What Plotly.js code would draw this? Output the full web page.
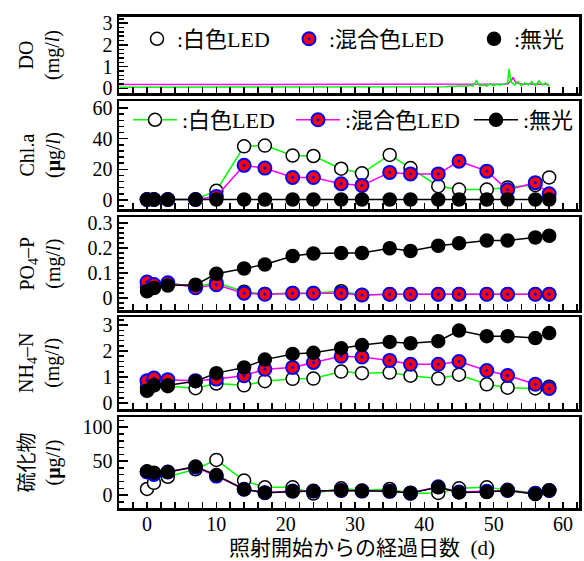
<!DOCTYPE html>
<html><head><meta charset="utf-8">
<script src="https://cdn.plot.ly/plotly-3.0.1.min.js"></script>
<style>html,body{margin:0;padding:0;background:#fff}#chart{width:584px;height:561px}</style>
</head><body><div id="chart"></div><script>
// sampling days
const days = [0,1,3,7,10,14,17,21,24,28,31,35,38,42,45,49,52,56,58];
// Chl.a (ug/l)
const chlWhite = [0.3,0.3,0.3,0.3,6,35,35.5,29,28.7,20.4,17.4,29.4,20.8,9,6.8,6.8,8.2,9.7,14.7];
const chlMixed = [0.3,0.3,0.3,0.3,2.3,22.6,20.8,14.7,14.7,10.6,9.5,18,17,17,25.3,18.8,6.6,11.3,4];
const chlDark  = [0.3,0.3,0.3,0.3,0.3,0.3,0.3,0.3,0.3,0.3,0.3,0.3,0.3,0.3,0.3,0.3,0.3,0.3,0.3];
// PO4-P (mg/l)
const poWhite = [0.045,0.05,0.06,0.045,0.062,0.025,0.016,0.02,0.02,0.027,0.012,0.015,0.015,0.015,0.015,0.015,0.015,0.015,0.015];
const poMixed = [0.064,0.054,0.061,0.041,0.053,0.019,0.015,0.019,0.019,0.019,0.012,0.015,0.015,0.015,0.015,0.015,0.015,0.015,0.015];
const poDark  = [0.027,0.04,0.05,0.053,0.097,0.118,0.134,0.168,0.178,0.18,0.18,0.199,0.188,0.209,0.219,0.23,0.23,0.242,0.249];
// NH4-N (mg/l)
const nhWhite = [0.59,0.68,0.65,0.57,0.75,0.68,0.84,0.93,0.94,1.21,1.15,1.17,1.05,0.94,1.09,0.72,0.59,0.56,0.63];
const nhMixed = [0.86,0.96,0.9,0.86,0.92,1.05,1.3,1.37,1.56,1.8,1.77,1.64,1.49,1.49,1.6,1.25,1.06,0.72,0.56];
const nhDark  = [0.47,0.68,0.68,0.84,1.15,1.37,1.67,1.89,1.93,2.11,2.23,2.35,2.3,2.38,2.79,2.57,2.57,2.5,2.69];
// Sulfide (ug/l)
const suWhite = [9,18,27,38,51.8,21.4,11.4,11.4,2.3,10,6.8,9,2.3,3.2,10,11.4,7.7,3.2,6.8];
const suMixed = [34,30.5,34,41,28,8.6,3.6,5.9,5.9,6.8,5.9,5.5,3.2,12.3,4.5,5.5,6.8,2.3,6.8];
const suDark  = [35,33,34,42,29.5,8.6,3.6,5.5,5.9,6.8,5.9,5.5,3.2,11.4,4,4.5,6.8,1.4,6.8];
// DO continuous records (mg/l)
const doDaysW = [-4,0,10,20,30,40,43,44,44.5,45,45.5,46,46.5,47,47.5,48,48.5,49,49.5,50,50.5,51,51.5,52,52.2,52.5,53,53.5,54,54.5,55,55.5,56,56.5,57,57.5,58];
const doWhite = [0.05,0.05,0.05,0.06,0.05,0.06,0.07,0.1,0.08,0.12,0.09,0.1,0.14,0.1,0.35,0.12,0.15,0.1,0.2,0.12,0.18,0.15,0.2,0.25,0.9,0.3,0.15,0.3,0.12,0.25,0.15,0.3,0.12,0.35,0.15,0.25,0.1];
const doDaysM = [-4,0,10,20,30,40,45,48,50,52,52.5,52.8,53.2,54,55,57,58];
const doMixed = [0.17,0.18,0.17,0.17,0.17,0.17,0.17,0.18,0.18,0.2,0.35,0.5,0.25,0.2,0.2,0.18,0.17];

const legendNames = [':白色LED', ':混合色LED', ':無光'];

const serif = 'Liberation Serif, Noto Sans CJK JP, serif';
const W = 460, L = 119, H = 561;
const px2x = p => (p - L) / W;
const px2y = p => 1 - p / H;

const white = {color:'#ffffff', size:13, line:{color:'#000000', width:1.5}};
const mixed = {color:'#ff0000', size:13, symbol:'circle-dot', line:{color:'#0000ff', width:2}};
const dark  = {color:'#000000', size:13, line:{color:'#000000', width:1.5}};
const gLine = {color:'#00ff00', width:1.5};
const mLine = {color:'#ff00ff', width:1.5};
const kLine = {color:'#000000', width:1.5};

const traces = [];
function panel(ax, w, m, k, showLeg){
  const xa = 'x'+ax, ya = 'y'+ax;
  traces.push({x:days, y:w, xaxis:xa, yaxis:ya, mode:'lines+markers', marker:white, line:gLine, name:legendNames[0], showlegend:showLeg, legend:'legend4', cliponaxis:false});
  traces.push({x:days, y:m, xaxis:xa, yaxis:ya, mode:'lines+markers', marker:mixed, line:mLine, name:legendNames[1], showlegend:showLeg, legend:'legend5', cliponaxis:false});
  traces.push({x:days, y:k, xaxis:xa, yaxis:ya, mode:'lines+markers', marker:dark, line:kLine, name:legendNames[2], showlegend:showLeg, legend:'legend6', cliponaxis:false});
}
// DO panel lines
traces.push({x:doDaysM, y:doMixed, xaxis:'x', yaxis:'y', mode:'lines', line:{color:'#ff00ff', width:1.5}, showlegend:false});
traces.push({x:doDaysW, y:doWhite, xaxis:'x', yaxis:'y', mode:'lines', line:{color:'#00ff00', width:1.5}, showlegend:false});
// DO legend (markers only)
traces.push({x:[null], y:[null], xaxis:'x', yaxis:'y', mode:'markers', marker:white, name:legendNames[0], legend:'legend', showlegend:true});
traces.push({x:[null], y:[null], xaxis:'x', yaxis:'y', mode:'markers', marker:mixed, name:legendNames[1], legend:'legend2', showlegend:true});
traces.push({x:[null], y:[null], xaxis:'x', yaxis:'y', mode:'markers', marker:dark, name:legendNames[2], legend:'legend3', showlegend:true});
panel(2, chlWhite, chlMixed, chlDark, true);
panel(3, poWhite, poMixed, poDark, false);
panel(4, nhWhite, nhMixed, nhDark, false);
panel(5, suWhite, suMixed, suDark, false);

const tickFont = {family:serif, size:20, color:'#000'};
function xaxis(dom, showLabels){
  return {domain:[0,1], range:[-4.04,62.3], anchor:dom, tickmode:'linear', tick0:0, dtick:10,
    ticks:'inside', ticklen:6, tickwidth:1.5, tickcolor:'#000', showticklabels:showLabels, tickfont:tickFont,
    ticklabelstandoff:-4,
    minor:{dtick:2, ticks:'inside', ticklen:6, tickwidth:1.5, tickcolor:'#000'},
    showline:true, linewidth:2.5, linecolor:'#000', mirror:true, showgrid:false, zeroline:false};
}
function yaxis(xa, dom, range, dtick, mdtick){
  return {domain:dom, range:range, anchor:xa, tickmode:'linear', tick0:0, dtick:dtick,
    ticks:'inside', ticklen:9, tickwidth:1.5, tickcolor:'#000', tickfont:tickFont,
    minor:{dtick:mdtick, tick0:0, ticks:'inside', ticklen:5, tickwidth:1.5, tickcolor:'#000'},
    showline:true, linewidth:2.5, linecolor:'#000', mirror:true, showgrid:false, zeroline:false};
}
const doms = [[16.7,93.3],[101,209],[217,310],[317,409],[417,508]].map(d => [px2y(d[1]), px2y(d[0])]);

function leg(xpx, ypx, iw){
  return {x:px2x(xpx), y:px2y(ypx), xanchor:'left', yanchor:'middle', orientation:'h', itemwidth:iw, bgcolor:'rgba(0,0,0,0)', font:{family:serif, size:22, color:'#000'}, borderwidth:0};
}

const yTitles = ['DO<br>(mg/<i>l</i>)', 'Chl.a<br>(<b>μ</b>g/<i>l</i>)', 'PO<sub>4</sub>–P<br>(mg/<i>l</i>)', 'NH<sub>4</sub>–N<br>(mg/<i>l</i>)', '硫化物<br>(<b>μ</b>g/<i>l</i>)'];
const annotations = yTitles.map((t, i) => ({
  text:t, xref:'paper', yref:'paper', x:px2x(40), y:(doms[i][0]+doms[i][1])/2, textangle:-90,
  showarrow:false, xanchor:'center', yanchor:'middle', font:{family:serif, size:20, color:'#000'}
}));
annotations.push({text:'照射開始からの経過日数&nbsp;&nbsp;(d)', xref:'paper', yref:'paper', x:px2x(362), y:px2y(548), showarrow:false, xanchor:'center', yanchor:'middle', font:{family:serif, size:21, color:'#000'}});

const layout = {
  width:584, height:561, margin:{l:L, r:5, t:0, b:0}, paper_bgcolor:'#fff', plot_bgcolor:'#fff',
  font:{family:serif, size:20, color:'#000'},
  xaxis:xaxis('y', false), xaxis2:xaxis('y2', false), xaxis3:xaxis('y3', false), xaxis4:xaxis('y4', false), xaxis5:xaxis('y5', true),
  yaxis:yaxis('x', doms[0], [-0.23,3.3], 1, 0.2),
  yaxis2:yaxis('x2', doms[1], [-5.9,64.6], 20, 4),
  yaxis3:yaxis('x3', doms[2], [-0.048,0.324], 0.1, 0.02),
  yaxis4:yaxis('x4', doms[3], [-0.23,3.31], 1, 0.2),
  yaxis5:yaxis('x5', doms[4], [-19,115], 50, 10),
  legend:leg(137,39,30), legend2:leg(289,39,30), legend3:leg(474,39,30),
  legend4:leg(128,120,44), legend5:leg(291,120,44), legend6:leg(469,120,44),
  annotations:annotations, showlegend:true
};
Plotly.newPlot('chart', traces, layout, {displayModeBar:false, staticPlot:true});
</script></body></html>
